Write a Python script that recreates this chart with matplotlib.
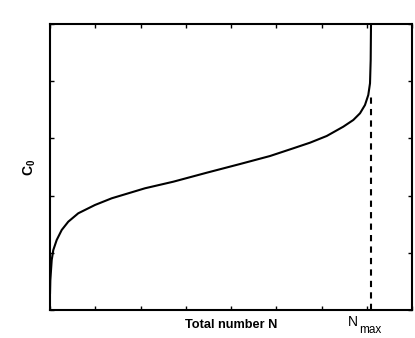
import numpy as np
import matplotlib
matplotlib.use('Agg')
import matplotlib.pyplot as plt
import matplotlib.transforms as mtransforms

plt.rcParams['font.family'] = ['Liberation Sans', 'DejaVu Sans']
plt.rcParams['mathtext.fontset'] = 'custom'
plt.rcParams['mathtext.rm'] = 'Liberation Sans'
plt.rcParams['mathtext.bf'] = 'Liberation Sans:bold'

# curve (x in tick units 0..8, y in tick units 0..5)
n_total = [0.0, 0.007, 0.038, 0.073, 0.148, 0.259, 0.404, 0.625, 0.994, 1.364,
           1.730, 2.099, 2.725, 3.463, 4.199, 4.862, 5.377, 5.746, 6.115, 6.482,
           6.703, 6.851, 6.961, 7.034, 7.072, 7.087, 7.094]
c0 = [0.28, 0.52, 0.874, 1.049, 1.224, 1.399, 1.544, 1.691, 1.836, 1.953,
      2.040, 2.128, 2.243, 2.400, 2.552, 2.692, 2.827, 2.925, 3.042, 3.205,
      3.322, 3.439, 3.584, 3.759, 3.963, 4.371, 5.0]
n_max = 7.094
c0_at_nmax = 3.8

fig = plt.figure(figsize=(4.15, 3.38), dpi=100)
ax = fig.add_axes([50/415, 28/338, 362/415, 286/338])

ax.plot([n_max, n_max], [0, c0_at_nmax], color='black', linestyle='--',
        linewidth=1.5, dashes=(3, 2.5))
ax.plot(n_total, c0, color='black', linewidth=1.5, solid_capstyle='butt')

ax.set_xlim(0, 8)
ax.set_ylim(0, 5)
ax.set_xticks(np.arange(0, 9))
ax.set_yticks(np.arange(0, 6))
ax.set_xticklabels([])
ax.set_yticklabels([])
ax.tick_params(direction='in', length=3, width=1, top=True, right=True)
for s in ax.spines.values():
    s.set_linewidth(1.5)

ax.set_xlabel('Total number N', fontsize=9.2, fontweight='bold', labelpad=3)
ax.set_ylabel(r'$\mathbf{C_0}$', fontsize=10, labelpad=5)

# N_max label under the dashed line
base = mtransforms.blended_transform_factory(ax.transData, ax.transAxes)
t_n = base + mtransforms.ScaledTranslation(-9.4/72, -3.4/72, fig.dpi_scale_trans)
t_max = base + mtransforms.ScaledTranslation(-8.6/72, -16.4/72, fig.dpi_scale_trans)
ax.text(n_max, 0, 'N', transform=t_n, ha='right', va='top', fontsize=10)
ax.text(n_max, 0, 'max', transform=t_max, ha='left', va='baseline', fontsize=8.5)

fig.savefig('out.png', dpi=100)
